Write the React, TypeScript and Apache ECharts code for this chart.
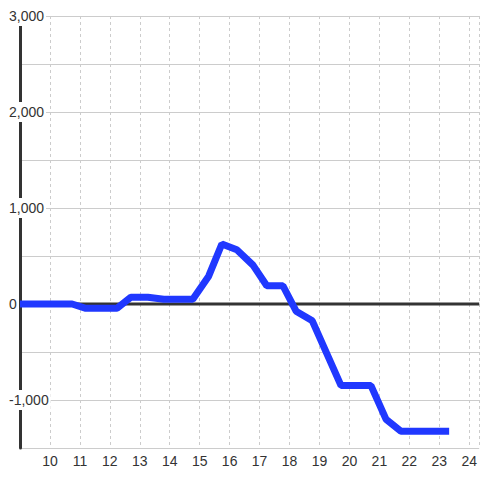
import React, { useEffect, useRef } from "react";
import * as echarts from "echarts";

const hours = [9, 10.74, 11.2, 12.24, 12.7, 13.27, 13.8, 14.77, 15.3, 15.74, 16.24, 16.78, 17.24, 17.78, 18.22, 18.76, 19.72, 20.72, 21.22, 21.72, 23.33];
const values = [0, 0, -45, -45, 70, 70, 50, 50, 290, 625, 565, 405, 190, 190, -75, -175, -850, -850, -1200, -1325, -1325];
const yTicks = [-1000, 0, 1000, 2000, 3000];
const xMin = 9;
const xMax = 24 + 1 / 3;

export default function App() {
  const ref = useRef<HTMLDivElement>(null);
  useEffect(() => {
    if (!ref.current) return;
    const chart = echarts.init(ref.current, null, { renderer: "svg" });
    const font = "'Liberation Sans', Arial, sans-serif";
    chart.setOption({
      animation: false,
      backgroundColor: "#ffffff",
      grid: { left: 20, right: 0, top: 16, bottom: 32, containLabel: false },
      xAxis: {
        type: "value",
        min: xMin,
        max: xMax,
        interval: 1,
        axisLine: { show: false },
        axisTick: { show: false },
        axisLabel: {
          showMinLabel: false,
          showMaxLabel: false,
          margin: 6,
          color: "#333",
          fontSize: 14,
          fontFamily: font,
          formatter: (v: number) => String(Math.round(v)),
        },
        splitLine: { show: true, lineStyle: { color: "#cccccc", type: [3, 3], width: 1 } },
      },
      yAxis: {
        type: "value",
        min: -1500,
        max: 3000,
        interval: 500,
        axisLine: { show: true, onZero: false, lineStyle: { color: "#333", width: 3 } },
        axisTick: { show: false },
        axisLabel: {
          align: "left",
          margin: 13,
          color: "#333",
          fontSize: 14,
          fontFamily: font,
          backgroundColor: "#ffffff",
          padding: [3, 2, 3, 2],
          formatter: (v: number) => (yTicks.indexOf(v) >= 0 ? v.toLocaleString("en-US") : ""),
        },
        splitLine: { show: true, lineStyle: { color: "#cccccc", width: 1 } },
      },
      series: [
        {
          type: "line",
          data: [[xMin, 0], [xMax, 0]],
          symbol: "none",
          silent: true,
          z: 1,
          lineStyle: { color: "#333", width: 3 },
        },
        {
          type: "line",
          data: hours.map((h, i) => [h, values[i]]),
          symbol: "none",
          z: 3,
          lineStyle: { color: "#2038ff", width: 7 },
        },
      ],
    });
    return () => chart.dispose();
  }, []);
  return <div ref={ref} style={{ position: "fixed", left: 0, top: 0, width: 480, height: 480 }} />;
}
